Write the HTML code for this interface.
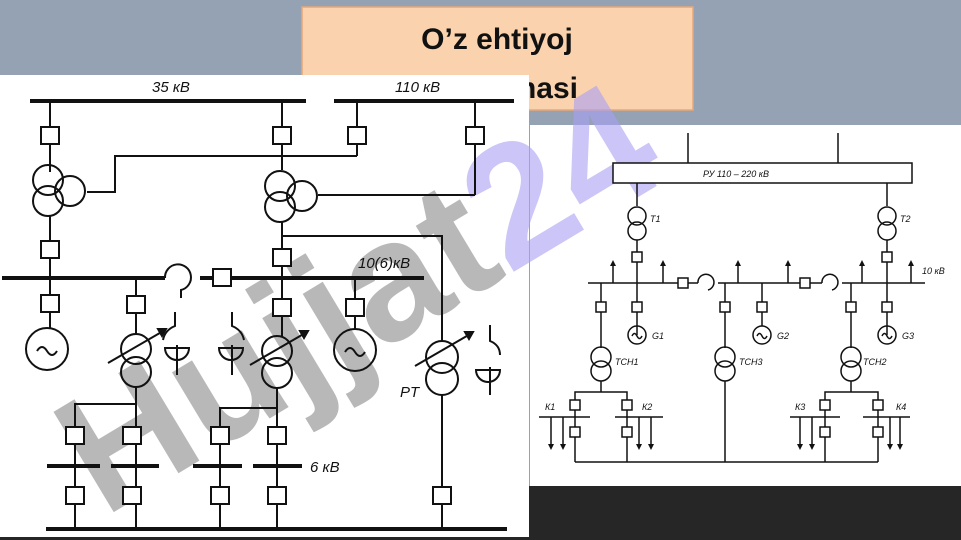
<!DOCTYPE html>
<html><head><meta charset="utf-8"><style>
html,body{margin:0;padding:0;background:#94a2b4;}
svg{display:block}
</style></head><body>
<svg width="961" height="540" viewBox="0 0 961 540" xmlns="http://www.w3.org/2000/svg" font-family="Liberation Sans, sans-serif">
<rect x="0" y="0" width="961" height="540" fill="#94a2b4"/>
<rect x="530" y="125" width="431" height="361" fill="#fff"/>
<rect x="0" y="486" width="961" height="54" fill="#262626"/>
<!-- title -->
<rect x="302" y="7" width="391" height="103" fill="#fad3ae" stroke="#e8a878" stroke-width="1.5"/>
<text x="497" y="49" font-size="30" font-weight="bold" text-anchor="middle" fill="#111">O’z ehtiyoj</text>
<text x="578" y="98" font-size="30" font-weight="bold" text-anchor="end" fill="#111">sxemasi</text>
<!-- left image -->
<rect x="0" y="75" width="529" height="462" fill="#fff"/>

<!-- watermark -->
<g transform="translate(104,518) rotate(-31)" font-size="170" font-weight="bold">
<text x="0" y="0" fill="#9a9a9a" fill-opacity="0.7">Hujjat</text>
<text x="0" y="0" fill-opacity="0"><tspan fill-opacity="0">Hujjat</tspan><tspan fill="#a99ff4" fill-opacity="0.6">24</tspan></text>
</g>

<g stroke="#111" stroke-width="2" fill="none">
<!-- LEFT DIAGRAM -->
<line x1="30" y1="101" x2="306" y2="101" stroke-width="4"/>
<line x1="334" y1="101" x2="514" y2="101" stroke-width="4"/>
<line x1="50" y1="101" x2="50" y2="172"/>
<line x1="282" y1="101" x2="282" y2="170"/>
<line x1="357" y1="101" x2="357" y2="156"/>
<line x1="475" y1="101" x2="475" y2="195"/>
<polyline points="357,156 115,156 115,192 87,192"/>
<line x1="475" y1="195" x2="318" y2="195"/>
<circle cx="48" cy="180" r="15"/><circle cx="48" cy="201" r="15"/><circle cx="70" cy="191" r="15"/>
<circle cx="280" cy="186" r="15"/><circle cx="280" cy="207" r="15"/><circle cx="302" cy="196" r="15"/>
<line x1="50" y1="216" x2="50" y2="278"/>
<polyline points="282,222 282,278"/>
<polyline points="282,236 442,236 442,342"/>
<line x1="2" y1="278" x2="165" y2="278" stroke-width="4"/>
<line x1="200" y1="278" x2="424" y2="278" stroke-width="4"/>
<path d="M165,278 A13,13 0 1 1 181,290 L181,298"/>
<!-- feeders -->
<line x1="50" y1="278" x2="50" y2="328"/>
<circle cx="47" cy="349" r="21"/>
<path d="M37,351 q5,-8 10,0 t10,0"/>
<line x1="136" y1="278" x2="136" y2="334"/>
<circle cx="136" cy="349" r="15"/><circle cx="136" cy="372" r="15"/>
<line x1="108" y1="363" x2="165" y2="330"/><path d="M158,329 l8,0 l-4,7 z" fill="#111"/>
<path d="M175,312 v14 q-10,4 -12,14 M165,348 a12,12 0 1 0 24,0 z M177,345 v30"/>
<line x1="282" y1="278" x2="282" y2="336"/>
<circle cx="277" cy="351" r="15"/><circle cx="277" cy="373" r="15"/>
<line x1="250" y1="365" x2="307" y2="332"/><path d="M300,331 l8,0 l-4,7 z" fill="#111"/>
<path d="M232,312 v14 q10,4 12,14 M219,348 a12,12 0 1 0 24,0 z M232,345 v30"/>
<line x1="355" y1="278" x2="355" y2="329"/>
<circle cx="355" cy="350" r="21"/>
<path d="M345,352 q5,-8 10,0 t10,0"/>
<circle cx="442" cy="357" r="16"/><circle cx="442" cy="379" r="16"/>
<line x1="415" y1="366" x2="472" y2="333"/><path d="M465,332 l8,0 l-4,7 z" fill="#111"/>
<path d="M490,325 v16 q10,4 10,14 M476,370 a12,12 0 1 0 24,0 z M490,367 v28"/>
<text x="400" y="397" font-size="15" font-style="italic" fill="#111" stroke="none">PT</text>
<line x1="442" y1="395" x2="442" y2="529"/>
<polyline points="136,387 136,529"/>
<polyline points="136,404 75,404 75,529"/>
<polyline points="277,388 277,529"/>
<polyline points="277,408 220,408 220,529"/>
<line x1="47" y1="466" x2="100" y2="466" stroke-width="4"/>
<line x1="111" y1="466" x2="159" y2="466" stroke-width="4"/>
<line x1="193" y1="466" x2="242" y2="466" stroke-width="4"/>
<line x1="253" y1="466" x2="302" y2="466" stroke-width="4"/>
<line x1="46" y1="529" x2="507" y2="529" stroke-width="4"/>
</g>
<g fill="#fff" stroke="#111" stroke-width="2">
<rect x="41" y="127" width="18" height="17"/><rect x="273" y="127" width="18" height="17"/>
<rect x="348" y="127" width="18" height="17"/><rect x="466" y="127" width="18" height="17"/>
<rect x="41" y="241" width="18" height="17"/><rect x="273" y="249" width="18" height="17"/>
<rect x="213" y="269" width="18" height="17"/>
<rect x="41" y="295" width="18" height="17"/><rect x="127" y="296" width="18" height="17"/>
<rect x="273" y="299" width="18" height="17"/><rect x="346" y="299" width="18" height="17"/>
<rect x="66" y="427" width="18" height="17"/><rect x="123" y="427" width="18" height="17"/>
<rect x="211" y="427" width="18" height="17"/><rect x="268" y="427" width="18" height="17"/>
<rect x="66" y="487" width="18" height="17"/><rect x="123" y="487" width="18" height="17"/>
<rect x="211" y="487" width="18" height="17"/><rect x="268" y="487" width="18" height="17"/>
<rect x="433" y="487" width="18" height="17"/>
</g>
<g font-size="15" font-style="italic" fill="#111">
<text x="152" y="92">35 кВ</text><text x="395" y="92">110 кВ</text>
<text x="358" y="268">10(6)кВ</text><text x="310" y="472">6 кВ</text>
</g>

<!-- RIGHT DIAGRAM -->
<g stroke="#111" stroke-width="1.5" fill="none">
<line x1="688" y1="133" x2="688" y2="163"/><line x1="838" y1="133" x2="838" y2="163"/>
<rect x="613" y="163" width="299" height="20" fill="#fff"/>
<line x1="637" y1="183" x2="637" y2="206"/><line x1="887" y1="183" x2="887" y2="206"/>
<circle cx="637" cy="216" r="9"/><circle cx="637" cy="231" r="9"/>
<circle cx="887" cy="216" r="9"/><circle cx="887" cy="231" r="9"/>
<line x1="637" y1="240" x2="637" y2="335"/><line x1="887" y1="240" x2="887" y2="335"/>
<line x1="588" y1="283" x2="698" y2="283"/><line x1="718" y1="283" x2="822" y2="283"/><line x1="842" y1="283" x2="925" y2="283"/>
<path d="M698,283 a8,8 0 1 1 10,7"/><path d="M822,283 a8,8 0 1 1 10,7"/>
<g>
<line x1="613" y1="283" x2="613" y2="264"/><line x1="663" y1="283" x2="663" y2="264"/>
<line x1="738" y1="283" x2="738" y2="264"/><line x1="788" y1="283" x2="788" y2="264"/>
<line x1="862" y1="283" x2="862" y2="264"/><line x1="911" y1="283" x2="911" y2="264"/>
</g>
<line x1="601" y1="283" x2="601" y2="348"/><line x1="725" y1="283" x2="725" y2="348"/>
<line x1="762" y1="283" x2="762" y2="326"/><line x1="851" y1="283" x2="851" y2="348"/>
<circle cx="637" cy="335" r="9"/><circle cx="762" cy="335" r="9"/><circle cx="887" cy="335" r="9"/>
<path d="M632,336 q2.5,-5 5,0 t5,0 M757,336 q2.5,-5 5,0 t5,0 M882,336 q2.5,-5 5,0 t5,0"/>
<circle cx="601" cy="357" r="10"/><circle cx="601" cy="371" r="10"/>
<circle cx="725" cy="357" r="10"/><circle cx="725" cy="371" r="10"/>
<circle cx="851" cy="357" r="10"/><circle cx="851" cy="371" r="10"/>
<line x1="601" y1="381" x2="601" y2="392"/><line x1="725" y1="381" x2="725" y2="462"/><line x1="851" y1="381" x2="851" y2="392"/>
<polyline points="575,462 575,392 627,392 627,462"/>
<polyline points="825,462 825,392 878,392 878,462"/>
<line x1="575" y1="462" x2="878" y2="462"/>
<line x1="539" y1="417" x2="590" y2="417"/><line x1="615" y1="417" x2="663" y2="417"/>
<line x1="790" y1="417" x2="840" y2="417"/><line x1="863" y1="417" x2="910" y2="417"/>
<line x1="551" y1="417" x2="551" y2="446"/><line x1="563" y1="417" x2="563" y2="446"/>
<line x1="639" y1="417" x2="639" y2="446"/><line x1="651" y1="417" x2="651" y2="446"/>
<line x1="800" y1="417" x2="800" y2="446"/><line x1="812" y1="417" x2="812" y2="446"/>
<line x1="890" y1="417" x2="890" y2="446"/><line x1="900" y1="417" x2="900" y2="446"/>
</g>
<g fill="#111">
<path d="M610,266 l3,-6 l3,6z M660,266 l3,-6 l3,6z M735,266 l3,-6 l3,6z M785,266 l3,-6 l3,6z M859,266 l3,-6 l3,6z M908,266 l3,-6 l3,6z"/>
<path d="M548,444 l3,6 l3,-6z M560,444 l3,6 l3,-6z M636,444 l3,6 l3,-6z M648,444 l3,6 l3,-6z M797,444 l3,6 l3,-6z M809,444 l3,6 l3,-6z M887,444 l3,6 l3,-6z M897,444 l3,6 l3,-6z"/>
</g>
<g fill="#fff" stroke="#111" stroke-width="1.5">
<rect x="632" y="252" width="10" height="10"/><rect x="882" y="252" width="10" height="10"/>
<rect x="678" y="278" width="10" height="10"/><rect x="800" y="278" width="10" height="10"/>
<rect x="596" y="302" width="10" height="10"/><rect x="632" y="302" width="10" height="10"/>
<rect x="720" y="302" width="10" height="10"/><rect x="757" y="302" width="10" height="10"/>
<rect x="846" y="302" width="10" height="10"/><rect x="882" y="302" width="10" height="10"/>
<rect x="570" y="400" width="10" height="10"/><rect x="622" y="400" width="10" height="10"/>
<rect x="820" y="400" width="10" height="10"/><rect x="873" y="400" width="10" height="10"/>
<rect x="570" y="427" width="10" height="10"/><rect x="622" y="427" width="10" height="10"/>
<rect x="820" y="427" width="10" height="10"/><rect x="873" y="427" width="10" height="10"/>
</g>
<g font-size="9" font-style="italic" fill="#111">
<text x="703" y="177">РУ 110 – 220 кВ</text>
<text x="650" y="222">Т1</text><text x="900" y="222">Т2</text>
<text x="922" y="274">10 кВ</text>
<text x="652" y="339">G1</text><text x="777" y="339">G2</text><text x="902" y="339">G3</text>
<text x="615" y="365">ТСН1</text><text x="739" y="365">ТСН3</text><text x="863" y="365">ТСН2</text>
<text x="545" y="410">К1</text><text x="642" y="410">К2</text><text x="795" y="410">К3</text><text x="896" y="410">К4</text>
</g>
</svg>
</body></html>
